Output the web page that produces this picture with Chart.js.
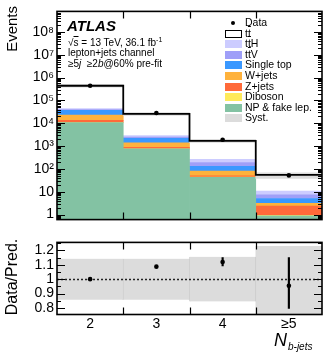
<!DOCTYPE html>
<html>
<head>
<meta charset="utf-8">
<script src="https://cdn.jsdelivr.net/npm/chart.js@4.4.0/dist/chart.umd.min.js"></script>
<style>
    body { margin: 0; background: #fff; font-family: "Liberation Sans", Arial, Helvetica, sans-serif; }
    #wrap { position: relative; width: 326px; height: 353px; overflow: hidden; }
    #wrap canvas { position: absolute; left: 0; }
    .t { position: absolute; white-space: nowrap; color: #000; line-height: 1; }
    .rot { transform-origin: 0 0; transform: rotate(-90deg); }
    .leg { position: absolute; left: 225px; font-size: 10.5px; line-height: 11px; }
    .leg .box { position: absolute; left: 0; top: 2px; width: 17px; height: 8px; }
    .leg .lab { position: absolute; left: 20px; top: 0; white-space: nowrap; }
    .ob { text-decoration: overline; }
</style>
</head>
<body>
<div id="wrap">
    <canvas id="main" width="326" height="231" style="top:0"></canvas>
    <canvas id="ratio" width="326" height="122" style="top:231px"></canvas>

    <!-- axis titles -->
    <div class="t rot" style="left:4px; top:52px; width:46px; text-align:right; font-size:15px;">Events</div>
    <div class="t rot" style="left:4px; top:322px; width:90px; text-align:center; font-size:16px;">Data/Pred.</div>
    <div class="t" style="left:274px; top:331px; font-size:18px; font-style:italic;">N<span style="font-size:10px; font-style:italic; position:relative; top:4px; margin-left:1px;">b</span><span style="font-size:10px; position:relative; top:4px;">-jets</span></div>

    <!-- ATLAS label -->
    <div class="t" style="left:67px; top:18px; font-size:15px; font-weight:bold; font-style:italic;">ATLAS</div>
    <div class="t" style="left:68px; top:36px; font-size:10px;">√<span style="text-decoration:overline">s</span> = 13 TeV, 36.1 fb<sup style="font-size:7px">-1</sup></div>
    <div class="t" style="left:68px; top:48px; font-size:10px;">lepton+jets channel</div>
    <div class="t" style="left:68px; top:59px; font-size:10px;">≥5<i>j</i> &nbsp;≥2<i>b</i>@60% pre-fit</div>

    <!-- legend -->
    <div class="leg" style="top:17px"><div class="box" style="left:6px; top:4px; width:4px; height:4px; border-radius:2px; background:#000"></div><div class="lab">Data</div></div>
    <div class="leg" style="top:28px"><div class="box" style="background:#fff; border:1.3px solid #000; width:14.5px; height:5.5px"></div><div class="lab">t<span class="ob">t</span></div></div>
    <div class="leg" style="top:38px"><div class="box" style="background:#ccccff"></div><div class="lab">t<span class="ob">t</span>H</div></div>
    <div class="leg" style="top:49px"><div class="box" style="background:#9f9ff8"></div><div class="lab">t<span class="ob">t</span>V</div></div>
    <div class="leg" style="top:59px"><div class="box" style="background:#3a98ff"></div><div class="lab">Single top</div></div>
    <div class="leg" style="top:70px"><div class="box" style="background:#ffb23c"></div><div class="lab">W+jets</div></div>
    <div class="leg" style="top:81px"><div class="box" style="background:#ff6a3a"></div><div class="lab">Z+jets</div></div>
    <div class="leg" style="top:91px"><div class="box" style="background:#ffea5a"></div><div class="lab">Diboson</div></div>
    <div class="leg" style="top:102px"><div class="box" style="background:#83c2a3"></div><div class="lab">NP &amp; fake lep.</div></div>
    <div class="leg" style="top:112px"><div class="box" style="background:#dcdcdc"></div><div class="lab">Syst.</div></div>
</div>

<script>
// categories (N b-jets)
const categories = ['2', '3', '4', '≥5'];

// stacked predictions, events per bin
const npFake    = [10700, 750, 43, 0.88];
const diboson   = [100, 10, 1, 0.05];
const zJets     = [2500, 130, 6, 1.4];
const wJets     = [9700, 510, 30, 0.8];
const singleTop = [14000, 800, 50, 1.9];
const ttV       = [3000, 300, 60, 2.3];
const ttH       = [4000, 400, 70, 3.4];
const ttbar     = [396000, 23100, 1440, 44];

// data
const dataEvents = [440000, 28300, 1900, 52];

// ratio panel
const ratio      = [1.0, 1.087, 1.119, 0.954];
const ratioErrLo = [0.004, 0.006, 0.027, 0.157];
const ratioErrHi = [0.004, 0.006, 0.030, 0.195];
const systLo     = [0.142, 0.142, 0.155, 0.30];
const systHi     = [0.142, 0.142, 0.155, 0.23];

// tick labels
const logTicks      = [1, 10, 1e2, 1e3, 1e4, 1e5, 1e6, 1e7, 1e8];
const logTickLabels = ['1', '10', '10²', '10³', '10⁴', '10⁵', '10⁶', '10⁷', '10⁸'];
const ratioTicks      = [0.8, 0.9, 1, 1.1, 1.2];
const ratioTickLabels = ['0.8', '0.9', '1', '1.1', '1.2'];

const FONT = '"Liberation Sans", Arial, Helvetica, sans-serif';

// totals of the stack
const totals = categories.map((c, i) =>
    npFake[i] + diboson[i] + zJets[i] + wJets[i] + singleTop[i] + ttV[i] + ttH[i] + ttbar[i]);

// step outline points on the bin edges
const outline = [];
totals.forEach((v, i) => { outline.push({ x: i - 0.5, y: v }); outline.push({ x: i + 0.5, y: v }); });

/**
 * Frame plus inward ticks on all four sides
 */
const frameTicks = {
    id: 'frameTicks',
    afterDraw(chart, args, opts) {
        const ctx = chart.ctx, a = chart.chartArea;
        const x = chart.scales.x, y = chart.scales.y;
        ctx.save();
        ctx.strokeStyle = '#000';
        ctx.lineWidth = 1;
        opts.yTicks().forEach(t => {
            const py = Math.round(y.getPixelForValue(t.v)) + 0.5;
            if (py < a.top + 1 || py > a.bottom - 1) return;
            ctx.beginPath();
            ctx.moveTo(a.left, py); ctx.lineTo(a.left + t.len, py);
            ctx.moveTo(a.right, py); ctx.lineTo(a.right - t.len, py);
            ctx.stroke();
        });
        ctx.lineWidth = 1.2;
        for (let i = 1; i < categories.length; i++) {
            const px = Math.round(x.getPixelForValue(i - 0.5)) + 0.5;
            ctx.beginPath();
            ctx.moveTo(px, a.bottom); ctx.lineTo(px, a.bottom - 7);
            ctx.moveTo(px, a.top); ctx.lineTo(px, a.top + 7);
            ctx.stroke();
        }
        ctx.lineWidth = 1.6;
        ctx.strokeRect(a.left, a.top, a.right - a.left, a.bottom - a.top);
        ctx.restore();
    }
};

function logTickMarks() {
    const marks = [];
    for (let e = -1; e <= 9; e++) {
        for (let m = 1; m <= 9; m++) marks.push({ v: m * Math.pow(10, e), len: m === 1 ? 8 : 4 });
    }
    return marks;
}

function ratioTickMarks() {
    const marks = [];
    for (let k = 15; k <= 25; k++) marks.push({ v: k * 0.05, len: k % 2 === 0 ? 8 : 4 });
    return marks;
}

function stackSet(label, values, color) {
    return {
        type: 'bar', label: label, data: values, backgroundColor: color,
        borderWidth: 0, barPercentage: 1, categoryPercentage: 1, grouped: false,
        stack: 'mc', order: 3
    };
}

// main panel
new Chart(document.getElementById('main'), {
    type: 'bar',
    data: {
        labels: categories,
        datasets: [
            {
                type: 'line', label: 'Data', data: dataEvents, showLine: false,
                pointRadius: 2.3, pointBackgroundColor: '#000', pointBorderWidth: 0,
                stack: 'data', order: 0
            },
            {
                type: 'line', label: 'outline', data: outline, xAxisID: 'xe',
                borderColor: '#000', borderWidth: 1.8, pointRadius: 0, tension: 0,
                stack: 'outline', order: 1
            },
            {
                type: 'bar', label: 'Syst.', xAxisID: 'xb',
                data: totals.map((v, i) => [v * (1 - systLo[i]), v * (1 + systHi[i])]),
                backgroundColor: '#dcdcdc', borderWidth: 0, barPercentage: 1, categoryPercentage: 1,
                grouped: false, stack: 'syst', order: 2
            },
            stackSet('NP & fake lep.', npFake, '#83c2a3'),
            stackSet('Diboson', diboson, '#ffea5a'),
            stackSet('Z+jets', zJets, '#ff6a3a'),
            stackSet('W+jets', wJets, '#ffb23c'),
            stackSet('Single top', singleTop, '#3a98ff'),
            stackSet('ttV', ttV, '#9f9ff8'),
            stackSet('ttH', ttH, '#ccccff'),
            stackSet('tt', ttbar, '#ffffff')
        ]
    },
    options: {
        responsive: false,
        animation: false,
        events: [],
        layout: { padding: { left: 0, right: 2, top: 7, bottom: 5 } },
        plugins: {
            legend: { display: false },
            tooltip: { enabled: false },
            frameTicks: { yTicks: logTickMarks }
        },
        scales: {
            x: { display: false, stacked: true },
            xb: { type: 'category', display: false, labels: categories },
            xe: { type: 'linear', display: false, offset: false, min: -0.5, max: 3.5 },
            y: {
                type: 'logarithmic',
                stacked: true,
                min: 0.6,
                max: 8e8,
                grid: { display: false, drawTicks: false },
                border: { display: false },
                afterFit: function(scale) { scale.width = 57; },
                afterBuildTicks: function(scale) {
                    scale.ticks = logTicks.map(v => ({ value: v }));
                },
                ticks: {
                    autoSkip: false,
                    padding: 3,
                    color: '#000',
                    font: { family: FONT, size: 14 },
                    callback: function(value) {
                        return logTickLabels[logTicks.indexOf(value)];
                    }
                }
            }
        }
    },
    plugins: [frameTicks]
});

// dotted line at 1, drawn right after the band
const unityLine = {
    id: 'unityLine',
    afterDatasetDraw(chart, args) {
        if (args.index !== 0) return;
        const ctx = chart.ctx, a = chart.chartArea;
        const py = Math.round(chart.scales.y.getPixelForValue(1)) + 0.5;
        ctx.save();
        ctx.strokeStyle = '#222';
        ctx.lineWidth = 1.3;
        ctx.setLineDash([2, 2]);
        ctx.beginPath();
        ctx.moveTo(a.left, py);
        ctx.lineTo(a.right, py);
        ctx.stroke();
        ctx.restore();
    }
};

// ratio panel
new Chart(document.getElementById('ratio'), {
    type: 'bar',
    data: {
        labels: categories,
        datasets: [
            {
                label: 'Syst.', data: ratio.map((r, i) => [1 - systLo[i], 1 + systHi[i]]),
                backgroundColor: '#dcdcdc', borderColor: '#c9c9c9',
                borderWidth: { left: 0.6, right: 0.6, top: 0, bottom: 0 },
                barPercentage: 1, categoryPercentage: 1, grouped: false, order: 2
            },
            {
                label: 'err', data: ratio.map((r, i) => [r - ratioErrLo[i], r + ratioErrHi[i]]),
                backgroundColor: '#000', borderWidth: 0, barThickness: 1.5, grouped: false, order: 1
            },
            {
                type: 'line', label: 'Data/Pred.', data: ratio, showLine: false,
                pointRadius: 2.3, pointBackgroundColor: '#000', pointBorderWidth: 0, order: 0
            }
        ]
    },
    options: {
        responsive: false,
        animation: false,
        events: [],
        layout: { padding: { left: 0, right: 2, top: 10, bottom: 0 } },
        plugins: {
            legend: { display: false },
            tooltip: { enabled: false },
            frameTicks: { yTicks: ratioTickMarks }
        },
        scales: {
            x: {
                grid: { display: false, drawTicks: false },
                border: { display: false },
                afterFit: function(scale) { scale.height = 38.5; },
                ticks: { padding: 1, maxRotation: 0, color: '#000', font: { family: FONT, size: 14 } }
            },
            y: {
                min: 0.755,
                max: 1.255,
                grid: { display: false, drawTicks: false },
                border: { display: false },
                afterFit: function(scale) { scale.width = 57; },
                afterBuildTicks: function(scale) {
                    scale.ticks = ratioTicks.map(v => ({ value: v }));
                },
                ticks: {
                    autoSkip: false,
                    padding: 3,
                    color: '#000',
                    font: { family: FONT, size: 14 },
                    callback: function(value) {
                        return ratioTickLabels[ratioTicks.indexOf(value)];
                    }
                }
            }
        }
    },
    plugins: [frameTicks, unityLine]
});
</script>
</body>
</html>
